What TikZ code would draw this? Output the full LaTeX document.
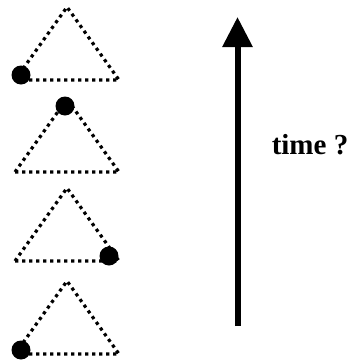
\documentclass[tikz,border=0pt]{standalone}
\usepackage{fontspec}
\setmainfont{Liberation Serif}
\usetikzlibrary{arrows.meta}
\newcommand{\timefont}{\fontsize{29pt}{34pt}\selectfont\bfseries}
\tikzset{
  tri/.style={line width=3.2pt, dash pattern=on 3.2pt off 3.8pt, line cap=butt, line join=miter},
  ball/.style={circle, fill=black, inner sep=0pt, minimum size=19pt},
  timearrow/.style={line width=6pt, -{Triangle[width=29pt,length=30pt]}},
  lbl/.style={inner sep=0pt, anchor=base}
}
\begin{document}
\begin{tikzpicture}[x=1pt,y=-1pt]
\useasboundingbox (0,0) rectangle (353,362);
\foreach \a/\n in {7/1,99/2,188/3,281/4}{
  \coordinate (apex\n) at (67,\a);
  \coordinate (left\n) at (15,\a+73);
  \coordinate (right\n) at (119,\a+73);
  \draw[tri] (left\n) -- (apex\n) -- (right\n) -- cycle;
}
\node[ball] (b1) at (21,75) {};
\node[ball] (b2) at (65,106) {};
\node[ball] (b3) at (109,256) {};
\node[ball] (b4) at (21,350) {};
\coordinate (tstart) at (237.5,326);
\coordinate (tend) at (237.5,17);
\draw[timearrow] (tstart) -- (tend);
\node[lbl] (time) at (310,154) {\timefont time ?};
\end{tikzpicture}
\end{document}
